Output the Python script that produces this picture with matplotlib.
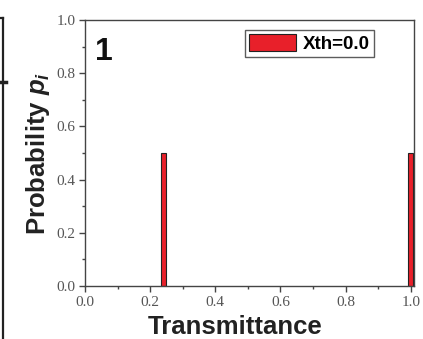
import matplotlib
matplotlib.use("Agg")
import matplotlib.pyplot as plt
from matplotlib.ticker import MultipleLocator
from matplotlib.lines import Line2D

# transmittance values and their probabilities
transmitancia = [0.24, 1.0]
probabilidad = [0.5, 0.5]
etiqueta = "Xth=0.0"
panel = "1"

plt.rcParams["mathtext.fontset"] = "custom"
plt.rcParams["mathtext.it"] = "Liberation Sans:bold:italic"
plt.rcParams["mathtext.rm"] = "Liberation Sans:bold"

fig = plt.figure(figsize=(4.23, 3.39), dpi=100)
ax = fig.add_axes([85 / 423, 1 - 286 / 339, (414 - 85) / 423, (286 - 20) / 339])

ax.bar(transmitancia, probabilidad, width=0.016, color="#e8202a",
       edgecolor="#222222", linewidth=0.8, label=etiqueta)

ax.set_xlim(0, 1.01)
ax.set_ylim(0, 1.0)
ax.xaxis.set_major_locator(MultipleLocator(0.2))
ax.xaxis.set_minor_locator(MultipleLocator(0.1))
ax.yaxis.set_major_locator(MultipleLocator(0.2))
ax.yaxis.set_minor_locator(MultipleLocator(0.1))

for s in ax.spines.values():
    s.set_color("#444444")
    s.set_linewidth(1.0)
ax.tick_params(which="major", direction="out", length=4, width=1, color="#444444",
               labelsize=11, labelcolor="#555555", pad=3)
ax.tick_params(which="minor", direction="out", length=2.5, width=1, color="#444444")
for lab in ax.get_xticklabels() + ax.get_yticklabels():
    lab.set_family("Liberation Serif")

ax.set_xlabel("Transmittance", family="Liberation Sans", fontweight="bold",
              fontsize=18.5, color="#222222")
ax.xaxis.set_label_coords(0.455, -0.11, transform=ax.transAxes)
ax.xaxis.label.set_va("top")
ax.set_ylabel(r"Probability $p_i$", family="Liberation Sans",
              fontweight="bold", fontsize=18.5, color="#222222", labelpad=3)

ax.text(0.03, 0.935, panel, transform=ax.transAxes, ha="left", va="top",
        family="Liberation Sans", fontweight="bold", fontsize=23, color="#111111")

leg = ax.legend(loc="upper right", bbox_to_anchor=(0.89, 0.975), frameon=True,
                fancybox=False, handlelength=2.5, handleheight=1.0, handletextpad=0.4,
                borderpad=0.2, borderaxespad=0.2,
                prop={"family": "Liberation Sans", "weight": "bold", "size": 13.5})
leg.get_frame().set_edgecolor("#333333")
leg.get_frame().set_linewidth(1.0)

# edge of the neighbouring panel
fig.add_artist(Line2D([3 / 423, 3 / 423], [0, 1 - 18 / 339], color="#222222", lw=1.6))
fig.add_artist(Line2D([0, 3 / 423], [1 - 18 / 339, 1 - 18 / 339], color="#222222", lw=1.6))
fig.add_artist(Line2D([0, 6 / 423], [1 - 82 / 339, 1 - 82 / 339], color="#222222", lw=2.5))

fig.savefig("out.png", dpi=100)
